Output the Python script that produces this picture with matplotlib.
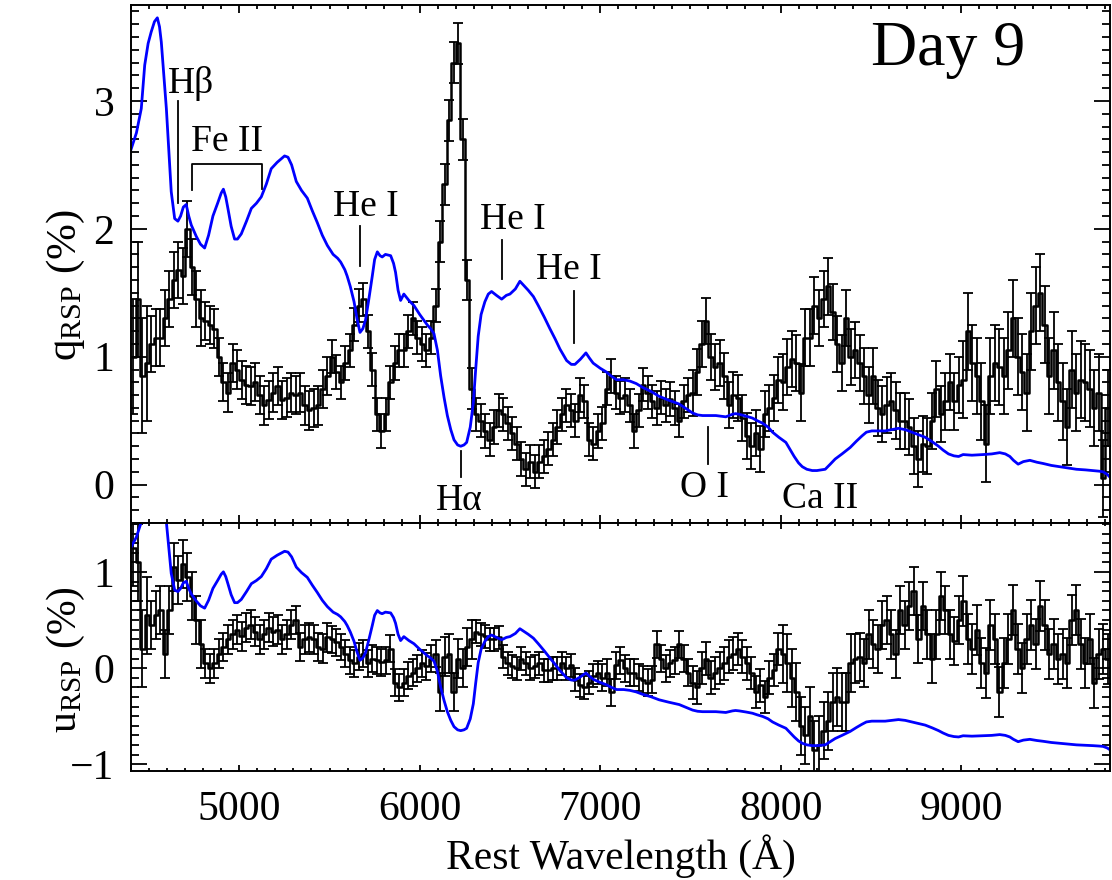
import numpy as np
import matplotlib
matplotlib.use('Agg')
import matplotlib.pyplot as plt
from matplotlib.ticker import MultipleLocator

plt.rcParams['font.family'] = 'Liberation Serif'
plt.rcParams['mathtext.fontset'] = 'custom'
plt.rcParams['mathtext.rm'] = 'Liberation Serif'
plt.rcParams['mathtext.it'] = 'Liberation Serif:italic'

# binned spectropolarimetry, 25 A bins, first bin centre 4412.5 A
bin_start = 4412.5
bin_width = 25.0

q_rsp = [1.0, 1.45, 0.85, 0.95, 1.1, 1.15, 1.15, 1.3, 1.45, 1.6,
         1.68, 1.63, 2.0, 1.7, 1.45, 1.3, 1.28, 1.25, 1.22, 1.0,
         0.8, 0.72, 0.95, 0.9, 0.82, 0.78, 0.77, 0.8, 0.7, 0.62,
         0.66, 0.72, 0.77, 0.66, 0.68, 0.72, 0.7,
         0.72, 0.62, 0.58, 0.6, 0.62, 0.75, 0.85, 1.0, 0.88, 0.8,
         0.95, 1.05, 1.25, 1.4, 1.45, 1.2, 0.9, 0.55, 0.42, 0.55,
         0.8, 0.95, 1.05, 1.05, 1.2, 1.3, 1.15, 1.1, 1.05, 1.15,
         1.4, 1.9, 2.35, 2.85, 3.3, 3.45, 2.7, 1.6, 0.75, 0.55,
         0.5, 0.42, 0.35, 0.45, 0.58, 0.55, 0.48, 0.4, 0.32, 0.2,
         0.12, 0.18, 0.1, 0.18, 0.22, 0.28, 0.35, 0.45, 0.55, 0.62,
         0.58, 0.5, 0.7, 0.65, 0.35, 0.32, 0.42, 0.48, 0.75, 0.85,
         0.72, 0.68, 0.7,
         0.62, 0.42, 0.58, 0.78, 0.72, 0.65, 0.6, 0.68, 0.62, 0.67,
         0.6, 0.5, 0.65, 0.7, 0.72, 0.88, 1.1, 1.28, 1.0, 0.92,
         0.95, 0.85, 0.62, 0.7, 0.68, 0.52, 0.38, 0.3, 0.4, 0.28,
         0.55, 0.6, 0.68, 0.82, 0.8, 0.92, 0.98,
         0.95, 0.72, 1.15, 1.15, 1.4, 1.3, 1.45, 1.55, 1.35, 1.1,
         0.95, 1.3, 1.0, 1.05, 0.95, 0.85, 0.7, 0.85, 0.6, 0.55,
         0.62, 0.65, 0.58, 0.5, 0.5, 0.45, 0.3, 0.2, 0.32, 0.3,
         0.5, 0.75, 0.55, 0.65, 0.8, 0.65, 0.78,
         0.82, 1.2, 0.95, 0.85, 0.65, 0.32, 0.85, 0.95, 0.92, 0.85,
         1.05, 1.3, 1.0, 0.88, 0.72, 1.2, 1.4, 1.5, 1.25, 0.85,
         1.05, 0.8, 0.65, 0.45, 0.9, 0.72, 0.82, 0.8, 0.75, 0.6,
         0.72, 0.05, 0.6]

u_rsp = [1.25, 1.1, 0.2, 0.55, 0.45, 0.55, 0.6, 0.15, 0.6, 1.05,
         0.92, 1.08, 0.95, 0.75, 0.5, 0.25, 0.05, 0.0, 0.05, 0.15,
         0.22, 0.3, 0.35, 0.4, 0.33, 0.42, 0.45, 0.38, 0.3, 0.35,
         0.42, 0.38, 0.4, 0.3, 0.35, 0.45, 0.5,
         0.22, 0.3, 0.32, 0.3, 0.22, 0.2, 0.32, 0.3, 0.27, 0.22,
         0.15, 0.08, 0.05, 0.12, 0.15, 0.05, 0.1, 0.08, 0.06, 0.08,
         0.2, -0.15, -0.2, -0.15, -0.08, -0.05, 0.0, 0.05, 0.02, 0.1,
         0.15, -0.25, 0.12, 0.15, -0.25, 0.1, 0.0, 0.22, 0.3, 0.38,
         0.35, 0.33, 0.3, 0.3, 0.32, 0.12, 0.05, 0.02, 0.0, 0.1,
         0.05, 0.0, 0.02, 0.05, -0.02, -0.02, 0.0, 0.0, 0.05, 0.0,
         0.03, -0.12, -0.18, -0.2, -0.15, -0.08, -0.05, -0.1, -0.05, -0.25,
         0.03, 0.08, 0.0,
         -0.05, -0.05, -0.1, -0.12, -0.15, -0.12, 0.25, 0.1, 0.0, 0.05,
         0.08, 0.25, 0.1, -0.05, -0.15, -0.2, 0.0, 0.1, -0.1, -0.05,
         0.0, 0.05, 0.12, 0.15, 0.2, 0.12, 0.05, -0.05, -0.25, -0.18,
         -0.3, -0.1, -0.02, 0.2, 0.15, 0.05, -0.1,
         -0.25, -0.6, -0.7, -0.5, -0.85, -0.8, -0.65, -0.55, -0.35, -0.3,
         -0.35, -0.35, 0.05, 0.1, 0.12, 0.05, 0.35, 0.25, 0.2, 0.45,
         0.5, 0.35, 0.15, 0.6, 0.45, 0.65, 0.8, 0.3, 0.65, 0.35,
         0.1, 0.35, 0.75, 0.6, 0.35, 0.28, 0.5,
         0.7, 0.3, 0.2, 0.4, 0.05, -0.05, 0.45, 0.3, -0.25, 0.05,
         0.3, 0.6, 0.2, 0.0, 0.3, 0.45, 0.25, 0.65, 0.45, 0.15,
         0.25, 0.1, 0.15, 0.05, 0.5, 0.6, 0.25, 0.05, 0.3, -0.15,
         0.15, 0.2, 0.1]

# 1-sigma uncertainties, read per wavelength segment
err_edges = [4400, 4500, 4800, 5500, 6100, 6300, 7000, 7500, 8000, 8400, 9000, 9900]
q_err_seg = [0.45, 0.22, 0.15, 0.13, 0.16, 0.13, 0.13, 0.18, 0.22, 0.22, 0.3]
u_err_seg = [0.4, 0.25, 0.15, 0.14, 0.2, 0.12, 0.14, 0.17, 0.3, 0.25, 0.26]

# total flux spectrum (scaled into the q panel)
flux_wave = [4400, 4430, 4457, 4476, 4495, 4512, 4530, 4546, 4558, 4568,
             4582, 4596, 4610, 4623, 4642, 4660, 4675, 4690, 4706, 4720,
             4734, 4762, 4785, 4808, 4830, 4854, 4880, 4900, 4912, 4925,
             4937, 4955, 4974, 4990, 5011, 5040, 5067, 5095, 5122, 5150,
             5177, 5210, 5251, 5270, 5290, 5316, 5345, 5377, 5405, 5432,
             5460, 5488, 5520, 5545, 5562, 5585, 5598, 5615, 5636, 5652,
             5669, 5685, 5700, 5718, 5737, 5750, 5765, 5780, 5792, 5810,
             5839, 5855, 5866, 5880, 5894, 5912, 5940, 5968, 6000, 6041,
             6060, 6079, 6098, 6116, 6135, 6153, 6172, 6190, 6210, 6227,
             6245, 6260, 6280, 6297, 6310, 6324, 6340, 6361, 6380, 6398,
             6425, 6454, 6480, 6500, 6530, 6555, 6575, 6601, 6630, 6657,
             6690, 6721, 6750, 6777, 6814, 6840, 6860, 6890, 6921, 6940,
             6961, 7000, 7035, 7060, 7091, 7130, 7164, 7200, 7235, 7280,
             7327, 7380, 7438, 7480, 7512, 7540, 7567, 7600, 7641, 7670,
             7696, 7715, 7733, 7750, 7770, 7810, 7844, 7870, 7900, 7930,
             7955, 7990, 8029, 8050, 8075, 8099, 8120, 8145, 8175, 8201,
             8225, 8247, 8275, 8302, 8340, 8385, 8420, 8450, 8475, 8505,
             8540, 8579, 8615, 8653, 8690, 8727, 8765, 8801, 8840, 8875,
             8900, 8930, 8960, 8986, 9011, 9060, 9122, 9170, 9214, 9245,
             9270, 9290, 9316, 9345, 9381, 9420, 9455, 9500, 9547, 9590,
             9639, 9690, 9731, 9765, 9787, 9810, 9830]
flux_q = [2.62, 2.75, 2.94, 3.28, 3.45, 3.54, 3.62, 3.65, 3.58, 3.46,
          3.2, 2.94, 2.6, 2.29, 2.08, 2.06, 2.1, 2.17, 2.19, 2.1,
          2.03, 1.94, 1.88, 1.85, 1.95, 2.1, 2.2, 2.28, 2.31, 2.25,
          2.16, 2.02, 1.92, 1.92, 1.96, 2.06, 2.16, 2.2, 2.25, 2.35,
          2.47, 2.52, 2.57, 2.56, 2.5, 2.37, 2.3, 2.24, 2.14, 2.05,
          1.95, 1.87, 1.8, 1.77, 1.74, 1.68, 1.63, 1.55, 1.43, 1.3,
          1.19, 1.22, 1.29, 1.45, 1.63, 1.76, 1.82, 1.79, 1.78, 1.8,
          1.79, 1.73, 1.66, 1.52, 1.44, 1.49, 1.44, 1.4, 1.33, 1.25,
          1.22, 1.18, 1.05, 0.85, 0.68, 0.54, 0.43, 0.35, 0.31, 0.3,
          0.31, 0.33, 0.45, 0.64, 0.9, 1.16, 1.33, 1.43, 1.49, 1.51,
          1.48, 1.45, 1.48, 1.49, 1.53, 1.59, 1.56, 1.52, 1.47, 1.4,
          1.31, 1.22, 1.14, 1.06, 0.97, 0.94, 0.94, 0.98, 1.03, 0.99,
          0.95, 0.91, 0.88, 0.85, 0.82, 0.82, 0.81, 0.79, 0.76, 0.73,
          0.69, 0.66, 0.63, 0.59, 0.56, 0.545, 0.54, 0.54, 0.54, 0.535,
          0.53, 0.54, 0.55, 0.555, 0.55, 0.535, 0.52, 0.5, 0.48, 0.45,
          0.41, 0.37, 0.33, 0.28, 0.22, 0.17, 0.14, 0.12, 0.11, 0.11,
          0.115, 0.12, 0.16, 0.2, 0.24, 0.29, 0.34, 0.38, 0.41, 0.42,
          0.42, 0.42, 0.43, 0.44, 0.43, 0.41, 0.39, 0.37, 0.335, 0.3,
          0.27, 0.24, 0.225, 0.22, 0.235, 0.23, 0.235, 0.24, 0.25, 0.24,
          0.22, 0.19, 0.16, 0.18, 0.19, 0.175, 0.165, 0.15, 0.14, 0.13,
          0.12, 0.115, 0.11, 0.105, 0.1, 0.08, 0.05]
# same spectrum rescaled for the u panel
u_scale, u_offset = 0.822, -0.897

# line ids: label, text wavelength, text baseline, tick wavelength, tick bottom, tick top
line_ids = [
    ('H\u03b2', 4730, 3.06, 4660, 2.2, 3.0),
    ('He I', 5699, 2.10, 5669, 1.71, 2.02),
    ('H\u03b1', 6217, -0.20, 6227, 0.06, 0.26),
    ('He I', 6518, 2.00, 6457, 1.61, 1.91),
    ('He I', 6829, 1.61, 6854, 1.11, 1.51),
    ('O I', 7580, -0.10, 7598, 0.16, 0.45),
    ('Ca II', 8217, -0.18, None, None, None),
]
feii_span = (4736, 5124)

nb = len(q_rsp)
wave = bin_start + bin_width * np.arange(nb)
seg = np.clip(np.searchsorted(err_edges, wave) - 1, 0, len(q_err_seg) - 1)
q_err = np.array(q_err_seg)[seg]
u_err = np.array(u_err_seg)[seg]
flux_wave = np.array(flux_wave)
flux_q = np.array(flux_q)
flux_u = flux_q * u_scale + u_offset

fig = plt.figure(figsize=(11.12, 8.8), dpi=100)
ax1 = fig.add_axes([0.1178, 0.4057, 0.8804, 0.5886])
ax2 = fig.add_axes([0.1178, 0.1239, 0.8804, 0.2818])

for ax, val, err, flux in [(ax1, q_rsp, q_err, flux_q), (ax2, u_rsp, u_err, flux_u)]:
    ax.errorbar(wave, val, yerr=err, fmt='none', ecolor='k', elinewidth=1.3,
                capsize=3.6, capthick=1.3)
    ax.plot(wave, val, drawstyle='steps-mid', color='k', lw=1.8)
    ax.plot(flux_wave, flux, color='#0000ff', lw=2.0)
    ax.set_xlim(4400, 9825)
    ax.xaxis.set_major_locator(MultipleLocator(1000))
    ax.xaxis.set_minor_locator(MultipleLocator(100))
    ax.yaxis.set_major_locator(MultipleLocator(1))
    ax.yaxis.set_minor_locator(MultipleLocator(0.1))
    ax.tick_params(which='both', direction='in', top=True, right=True,
                   width=1.3, labelsize=30, colors='k')
    ax.tick_params(axis='y', which='major', length=11.5, pad=12)
    ax.tick_params(axis='y', which='minor', length=5.8)
    for s in ax.spines.values():
        s.set_linewidth(1.4)

ax1.set_ylim(-0.3, 3.75)
ax2.set_ylim(-1.07, 1.51)
ax1.tick_params(axis='x', which='major', length=5.8, labelbottom=False)
ax1.tick_params(axis='x', which='minor', length=2.9)
ax2.tick_params(axis='x', which='major', length=4.3, pad=14)
ax2.tick_params(axis='x', which='minor', length=2.2)
ax2.set_yticks([-1, 0, 1])
ax2.set_yticklabels(['\u22121', '0', '1'])

ax1.set_ylabel('q$_{\\rm RSP}$ (%)', fontsize=31)
ax2.set_ylabel('u$_{\\rm RSP}$ (%)', fontsize=30)
ax1.yaxis.set_label_coords(-0.045, 0.46)
ax2.yaxis.set_label_coords(-0.045, 0.45)
ax2.set_xlabel('Rest Wavelength (\u00c5)', fontsize=30, labelpad=4)

for name, tw, ty, kw, k0, k1 in line_ids:
    ax1.text(tw, ty, name, fontsize=27, ha='center', va='baseline')
    if kw is not None:
        ax1.plot([kw, kw], [k0, k1], color='k', lw=1.3)

ax1.plot([feii_span[0], feii_span[0], feii_span[1], feii_span[1]],
         [2.3, 2.51, 2.51, 2.31], color='k', lw=1.3)
ax1.text(sum(feii_span) / 2, 2.61, 'Fe II', fontsize=27, ha='center', va='baseline')

ax1.text(0.913, 0.885, 'Day 9', transform=ax1.transAxes, fontsize=46,
         ha='right', va='baseline')

fig.savefig('out.png', dpi=100)
